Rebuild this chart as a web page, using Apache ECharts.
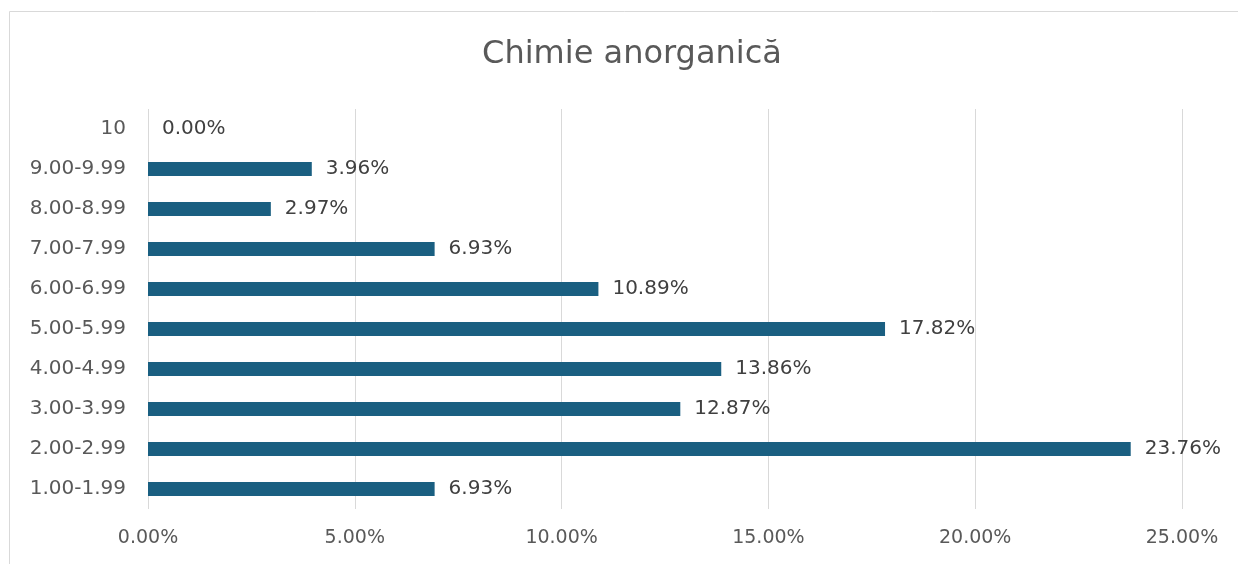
<!DOCTYPE html>
<html>
<head>
<meta charset="utf-8">
<script src="https://cdn.jsdelivr.net/npm/echarts@6/dist/echarts.min.js"></script>
<style>
  html, body { margin: 0; padding: 0; background: #fff; }
  #chart { width: 1238px; height: 564px; }
</style>
</head>
<body>
<div id="chart"></div>
<script>
// intervale de note, de jos in sus
var categories = ["1.00-1.99", "2.00-2.99", "3.00-3.99", "4.00-4.99", "5.00-5.99",
  "6.00-6.99", "7.00-7.99", "8.00-8.99", "9.00-9.99", "10"];
// procente
var values = [6.93, 23.76, 12.87, 13.86, 17.82, 10.89, 6.93, 2.97, 3.96, 0.00];
var xTicks = [0, 5, 10, 15, 20, 25];

var chart = echarts.init(document.getElementById("chart"));
var font = "DejaVu Sans";

chart.setOption({
  animation: false,
  title: {
    text: "Chimie anorganică",
    left: 627,
    top: 34,
    textAlign: "center",
    textStyle: { fontFamily: font, fontSize: 32, fontWeight: "normal", color: "#595959" }
  },
  graphic: [{
    type: "rect",
    shape: { x: 9.5, y: 11.5, width: 1300, height: 600 },
    style: { fill: "none", stroke: "#d9d9d9", lineWidth: 1 },
    silent: true
  }],
  grid: { left: 148, right: 56, top: 109, bottom: 55, containLabel: false },
  xAxis: {
    type: "value",
    min: xTicks[0],
    max: xTicks[xTicks.length - 1],
    interval: 5,
    axisLine: { show: false },
    axisTick: { show: false },
    splitLine: { lineStyle: { color: "#d9d9d9", width: 1 } },
    axisLabel: {
      margin: 20,
      fontFamily: font,
      fontSize: 19,
      color: "#595959",
      formatter: function (v) { return v.toFixed(2) + "%"; }
    }
  },
  yAxis: {
    type: "category",
    data: categories,
    axisLine: { show: false },
    axisTick: { show: false },
    axisLabel: { margin: 22, fontFamily: font, fontSize: 20, color: "#595959" }
  },
  series: [{
    type: "bar",
    data: values,
    barWidth: 14,
    itemStyle: { color: "#1a5f81" },
    label: {
      show: true,
      position: "right",
      distance: 14,
      fontFamily: font,
      fontSize: 20,
      color: "#404040",
      formatter: function (p) { return p.value.toFixed(2) + "%"; }
    }
  }]
});
</script>
</body>
</html>
